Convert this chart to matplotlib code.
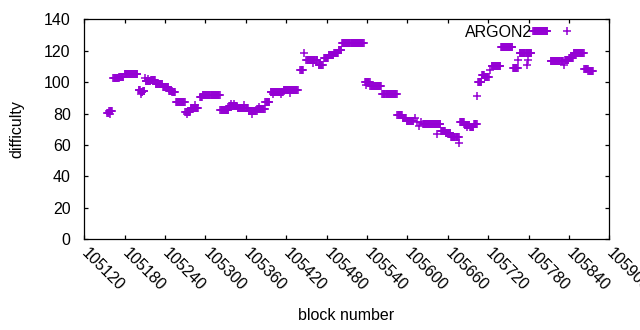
import numpy as np
import matplotlib
matplotlib.use("Agg")
import matplotlib.pyplot as plt

# ---- data (runs of constant difficulty) ----
run_start = [105154, 105157, 105163, 105172, 105180, 105201, 105204, 105207, 105211, 105219,
             105226, 105237, 105246, 105251, 105256, 105270, 105278, 105292, 105296, 105322,
             105335, 105348, 105364, 105377, 105389, 105397, 105416, 105441, 105450, 105468,
             105476, 105483, 105491, 105498, 105503, 105537, 105545, 105563, 105585, 105593,
             105599, 105623, 105650, 105657, 105665, 105678, 105685, 105693, 105699, 105705,
             105711, 105715, 105725, 105739, 105757, 105767, 105787, 105813, 105834, 105840,
             105847, 105863, 105869]
run_end = [105156, 105161, 105171, 105178, 105199, 105203, 105206, 105209, 105218, 105225,
           105236, 105245, 105250, 105255, 105269, 105277, 105289, 105295, 105321, 105334,
           105347, 105363, 105376, 105388, 105395, 105415, 105437, 105445, 105466, 105474,
           105482, 105490, 105497, 105502, 105535, 105544, 105561, 105584, 105592, 105598,
           105609, 105649, 105656, 105664, 105676, 105684, 105692, 105698, 105703, 105710,
           105714, 105721, 105738, 105756, 105764, 105784, 105808, 105831, 105839, 105846,
           105862, 105868, 105876]
run_value = [80.5, 81.5, 102.6, 103.4, 105.4, 94.8, 93.5, 94.2, 100.6, 101.2,
             98.8, 96.8, 94.3, 93.5, 87.6, 81.2, 83.6, 90.8, 92.0, 82.6,
             84.6, 83.4, 81.6, 82.8, 87.5, 93.6, 94.8, 107.6, 114.0, 111.0,
             115.3, 117.0, 118.6, 120.6, 125.1, 99.8, 97.6, 92.3, 78.8, 77.0,
             75.5, 73.3, 69.2, 67.4, 65.0, 74.8, 73.0, 71.2, 73.4, 100.0,
             104.3, 103.4, 110.0, 122.6, 109.3, 118.8, 132.7, 113.6, 114.0, 115.3,
             118.8, 108.4, 107.4]

single_block = [105158, 105210, 105214, 105204, 105273, 105284, 105338, 105343, 105357, 105369,
                105380, 105400, 105412, 105426, 105446, 105460, 105538, 105612, 105615, 105618,
                105620, 105644, 105677, 105688, 105704, 105723, 105765, 105777, 105779, 105833]
single_value = [79.5, 102.6, 102.0, 92.3, 79.8, 85.2, 86.2, 86.0, 85.5, 80.0,
                84.5, 92.2, 92.6, 93.4, 118.5, 112.5, 98.4, 77.5, 74.8, 72.0,
                74.4, 67.0, 61.0, 71.5, 91.0, 107.7, 114.0, 110.9, 113.8, 111.2]

xtick_values = [105120, 105180, 105240, 105300, 105360, 105420, 105480, 105540,
                105600, 105660, 105720, 105780, 105840, 105900]
ytick_values = [0, 20, 40, 60, 80, 100, 120, 140]

series_label = "ARGON2"
x_label = "block number"
y_label = "difficulty"

# ---- build point arrays ----
xs, ys = [], []
for s, e, v in zip(run_start, run_end, run_value):
    blocks = np.arange(s, e + 1)
    xs.extend(blocks)
    ys.extend([v] * len(blocks))
xs.extend(single_block)
ys.extend(single_value)
xs = np.array(xs)
ys = np.array(ys)

plt.rcParams['font.family'] = ['Liberation Sans', 'DejaVu Sans']
plt.rcParams['font.size'] = 11.5

W, H = 640, 330
fig = plt.figure(figsize=(W / 100, H / 100), dpi=100)
L, R, T, B = 84.3, 609.3, 19.3, 239.3
ax = fig.add_axes([L / W, 1 - B / H, (R - L) / W, (B - T) / H])

color = '#9400d3'
ax.plot(xs, ys, linestyle='none', marker='+', ms=6, mew=1.1, color=color,
        label=series_label)

ax.set_xlim(105120, 105900)
ax.set_ylim(0, 140)
ax.set_xticks(xtick_values)
ax.set_yticks(ytick_values)
ax.set_xticklabels([str(v) for v in xtick_values], rotation=-45, ha='left',
                   va='center', rotation_mode='anchor')

for sp in ax.spines.values():
    sp.set_linewidth(0.9)
    sp.set_color('black')
ax.tick_params(axis='both', which='major', direction='in', length=3, width=0.9,
               top=True, right=True, labelsize=11.5, colors='black')
ax.tick_params(axis='x', pad=8.6)
ax.tick_params(axis='y', pad=9.8)

fig.text(346 / W, 1 - 315 / H, x_label, ha='center', va='center', fontsize=11.5)
fig.text(17 / W, 1 - 129 / H, y_label, ha='center', va='center', rotation=90,
         fontsize=11.5)

ax.legend(loc='center right', bbox_to_anchor=(586 / W, 1 - 32.5 / H),
          bbox_transform=fig.transFigure, frameon=False, markerfirst=False,
          handlelength=2.4, handletextpad=1.0, borderpad=0, borderaxespad=0,
          fontsize=11.5)

fig.savefig('out.png', dpi=100)
